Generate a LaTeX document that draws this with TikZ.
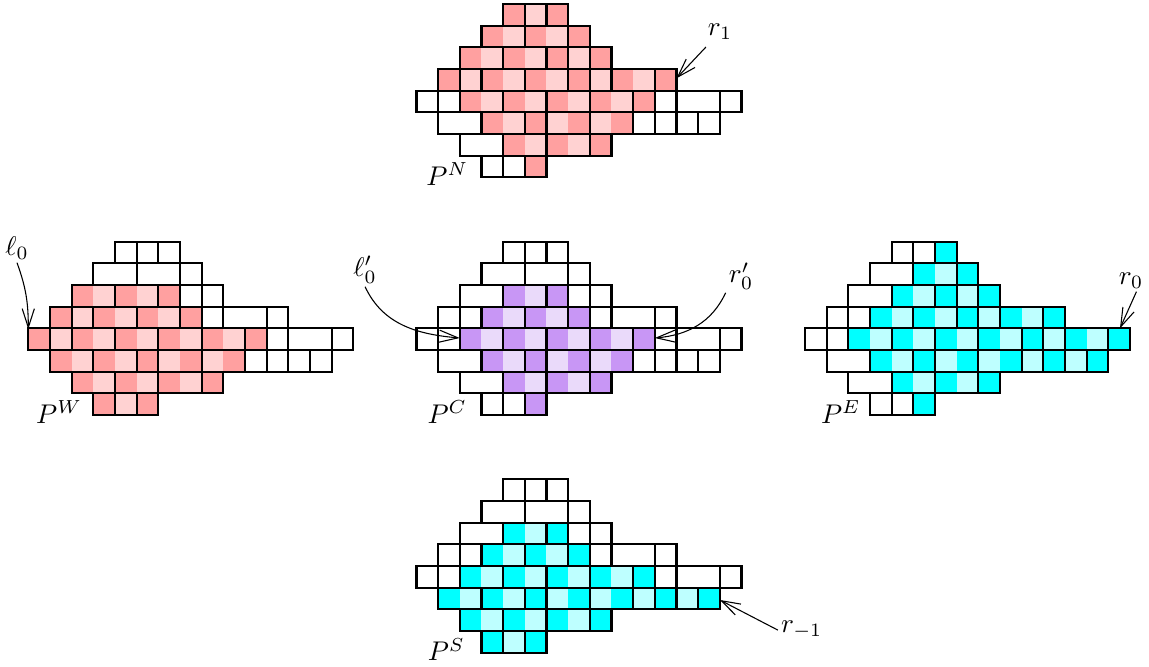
\documentclass[tikz,border=0pt]{standalone}
\usetikzlibrary{arrows.meta}
\definecolor{pkD}{RGB}{255,160,160}
\definecolor{pkL}{RGB}{255,210,210}
\definecolor{puD}{RGB}{200,150,245}
\definecolor{puL}{RGB}{234,218,250}
\definecolor{cyD}{RGB}{0,255,255}
\definecolor{cyL}{RGB}{190,255,255}
\newcommand\tilinglist{0/4/4,0/5/5,0/6/6,1/3/4,1/5/6,1/7/7,2/2/3,2/4/5,2/6/6,2/7/7,2/8/8,3/1/1,3/2/2,3/3/4,3/5/6,3/7/7,3/8/8,3/9/10,3/11/11,4/0/0,4/1/1,4/2/3,4/4/5,4/6/7,4/8/9,4/10/10,4/11/11,4/12/13,4/14/14,5/1/2,5/3/4,5/5/5,5/6/7,5/8/9,5/10/10,5/11/11,5/12/12,5/13/13,6/2/3,6/4/5,6/6/7,6/8/8,7/3/3,7/4/4,7/5/5}
\newcommand\drawpoly[5]{%
  \begin{scope}[shift={(#1,#2)}]
    \foreach \r/\a/\b in {#5}{%
      \foreach \c in {\a,...,\b}{%
        \pgfmathtruncatemacro\p{mod(\r+\c,2)}%
        \ifnum\p=0 \fill[#3] (\c,-\r) rectangle ++(1,-1);%
        \else \fill[#4] (\c,-\r) rectangle ++(1,-1);\fi
      }}
    \foreach \r/\a/\b in \tilinglist {\draw[tileline] (\a,-\r) rectangle (\b+1,-\r-1);}
  \end{scope}}
\begin{document}
\begin{tikzpicture}[x=0.2818cm,y=0.2818cm,
  tileline/.style={line width=0.8pt},
  arr/.style={line width=0.4pt,-{Straight Barb[length=7pt,width=4.5pt]}},
  lbl/.style={inner sep=1pt}]
\useasboundingbox (0,0) rectangle (53.03,-30.74);
% polyominoes
\drawpoly{19.22}{-0.185}{pkD}{pkL}{0/4/6,1/3/7,2/2/8,3/1/11,4/2/10,5/3/9,6/4/8,7/5/5}
\drawpoly{1.306}{-11.155}{pkD}{pkL}{2/2/6,3/1/7,4/0/10,5/1/9,6/2/8,7/3/5}
\drawpoly{19.22}{-11.155}{puD}{puL}{2/4/6,3/3/7,4/2/10,5/3/9,6/4/8,7/5/5}
\drawpoly{37.15}{-11.155}{cyD}{cyL}{0/6/6,1/5/7,2/4/8,3/3/11,4/2/14,5/3/13,6/4/8,7/5/5}
\drawpoly{19.22}{-22.12}{cyD}{cyL}{2/4/6,3/3/7,4/2/10,5/1/13,6/2/8,7/3/5}
% names
\node[lbl] (PN) at (20.64,-8.045) {$P^N$};
\node[lbl] (PW) at (2.726,-19.015) {$P^W$};
\node[lbl] (PC) at (20.64,-19.015) {$P^C$};
\node[lbl] (PE) at (38.8,-19.015) {$P^E$};
\node[lbl] (PS) at (20.60,-29.98) {$P^S$};
% arrow targets
\coordinate (r1tip) at (31.22,-3.615);
\coordinate (l0tip) at (1.306,-15.2);
\coordinate (l0ptip) at (21.22,-15.6);
\coordinate (r0ptip) at (30.22,-15.6);
\coordinate (r0tip) at (51.69,-15.155);
\coordinate (rm1tip) at (33.22,-27.69);
% labels
\node[lbl] (r1) at (33.23,-1.48) {$r_1$};
\node[lbl] (l0) at (0.785,-11.45) {$\ell_0$};
\node[lbl] (l0p) at (16.85,-12.46) {$\ell'_0$};
\node[lbl] (r0p) at (34.2,-12.74) {$r'_0$};
\node[lbl] (r0) at (52.2,-12.95) {$r_0$};
\node[lbl] (rm1) at (37.0,-29.08) {$r_{-1}$};
% connectors
\draw[arr,shorten <=2pt] (r1) -- (r1tip);
\draw[arr] (l0.south) to[out=-70,in=90] (l0tip);
\draw[arr] (l0p.south) to[out=-65,in=175] (l0ptip);
\draw[arr] (r0p.south west) to[out=-115,in=5] (r0ptip);
\draw[arr] ([xshift=2pt]r0.south) -- (r0tip);
\draw[arr] (rm1.west) -- (rm1tip);
\end{tikzpicture}
\end{document}
